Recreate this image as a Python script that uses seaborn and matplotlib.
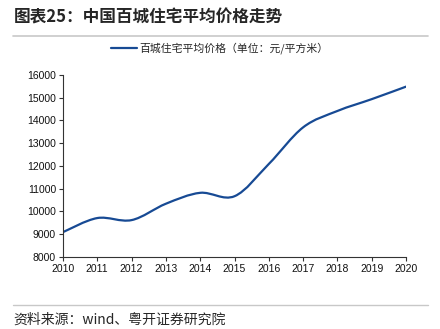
import numpy as np
import pandas as pd
import matplotlib
matplotlib.use("Agg")
import matplotlib.pyplot as plt
import seaborn as sns
from matplotlib.path import Path
from matplotlib.patches import PathPatch
from matplotlib.lines import Line2D

years = [2010, 2011, 2012, 2013, 2014, 2015, 2016, 2017, 2018, 2019, 2020]
prices = [9090, 9710, 9620, 10340, 10820, 10670, 12090, 13700, 14420, 14940, 15490]
y_ticks = [8000, 9000, 10000, 11000, 12000, 13000, 14000, 15000, 16000]
title = "图表25：中国百城住宅平均价格走势"
series_name = "百城住宅平均价格（单位：元/平方米）"
source = "资料来源：wind、粤开证券研究院"

sns.set_style("ticks")
plt.rcParams['font.family'] = ['Liberation Sans', 'Noto Sans CJK SC', 'DejaVu Sans']
cjk = ['Noto Sans CJK SC', 'DejaVu Sans']

LINE_COLOR = "#174a94"

fig = plt.figure(figsize=(4.4, 3.29), dpi=100)
ax = fig.add_axes([0.143, 0.219, 0.78, 0.553])

df = pd.DataFrame({"year": years, "price": prices})
sns.lineplot(data=df, x="year", y="price", ax=ax, color=LINE_COLOR, lw=1.6, legend=False)
base_line = ax.lines[0]
base_line.set_visible(False)

# smooth rendering (Catmull-Rom style Bezier through the data points)
x = np.asarray(years, dtype=float)
y = np.asarray(prices, dtype=float)
verts = [(x[0], y[0])]
codes = [Path.MOVETO]
n = len(x)
for i in range(n - 1):
    i0 = max(i - 1, 0)
    i3 = min(i + 2, n - 1)
    c1 = (x[i] + (x[i + 1] - x[i0]) / 6, y[i] + (y[i + 1] - y[i0]) / 6)
    c2 = (x[i + 1] - (x[i3] - x[i]) / 6, y[i + 1] - (y[i3] - y[i]) / 6)
    verts += [c1, c2, (x[i + 1], y[i + 1])]
    codes += [Path.CURVE4] * 3
ax.add_patch(PathPatch(Path(verts, codes), facecolor="none", edgecolor=LINE_COLOR,
                       lw=1.6, capstyle="round", joinstyle="round"))

ax.set_xlim(2010, 2020)
ax.set_ylim(8000, 16000)
ax.set_xticks(years)
ax.set_xticklabels([str(v) for v in years])
ax.set_yticks(y_ticks)
ax.set_yticklabels([str(v) for v in y_ticks])
ax.set_xlabel("")
ax.set_ylabel("")
ax.tick_params(axis="both", labelsize=7.5, length=3, width=0.8, colors="#333333",
               labelcolor="#111111", pad=2)
for s in ["top", "right"]:
    ax.spines[s].set_visible(False)
for s in ["left", "bottom"]:
    ax.spines[s].set_color("#333333")
    ax.spines[s].set_linewidth(0.8)

handle = Line2D([0], [0], color=LINE_COLOR, lw=1.6)
leg = fig.legend([handle], [series_name], loc="center", bbox_to_anchor=(0.5, 1 - 48 / 329),
                 frameon=False, prop={"family": cjk, "size": 7.8}, handlelength=2.4,
                 handletextpad=0.2)

fig.text(14 / 440, 1 - 17 / 329, title, fontsize=12, fontweight="bold", family=cjk,
         va="center", ha="left")
fig.add_artist(Line2D([13 / 440, 428 / 440], [1 - 36 / 329] * 2, color="#c8c8c8", lw=1.2))
fig.add_artist(Line2D([13 / 440, 428 / 440], [1 - 305 / 329] * 2, color="#c8c8c8", lw=1.0))
fig.text(13 / 440, 1 - 320 / 329, source, fontsize=10, style="italic", family=cjk,
         va="center", ha="left")

fig.savefig("out.png", dpi=100)
